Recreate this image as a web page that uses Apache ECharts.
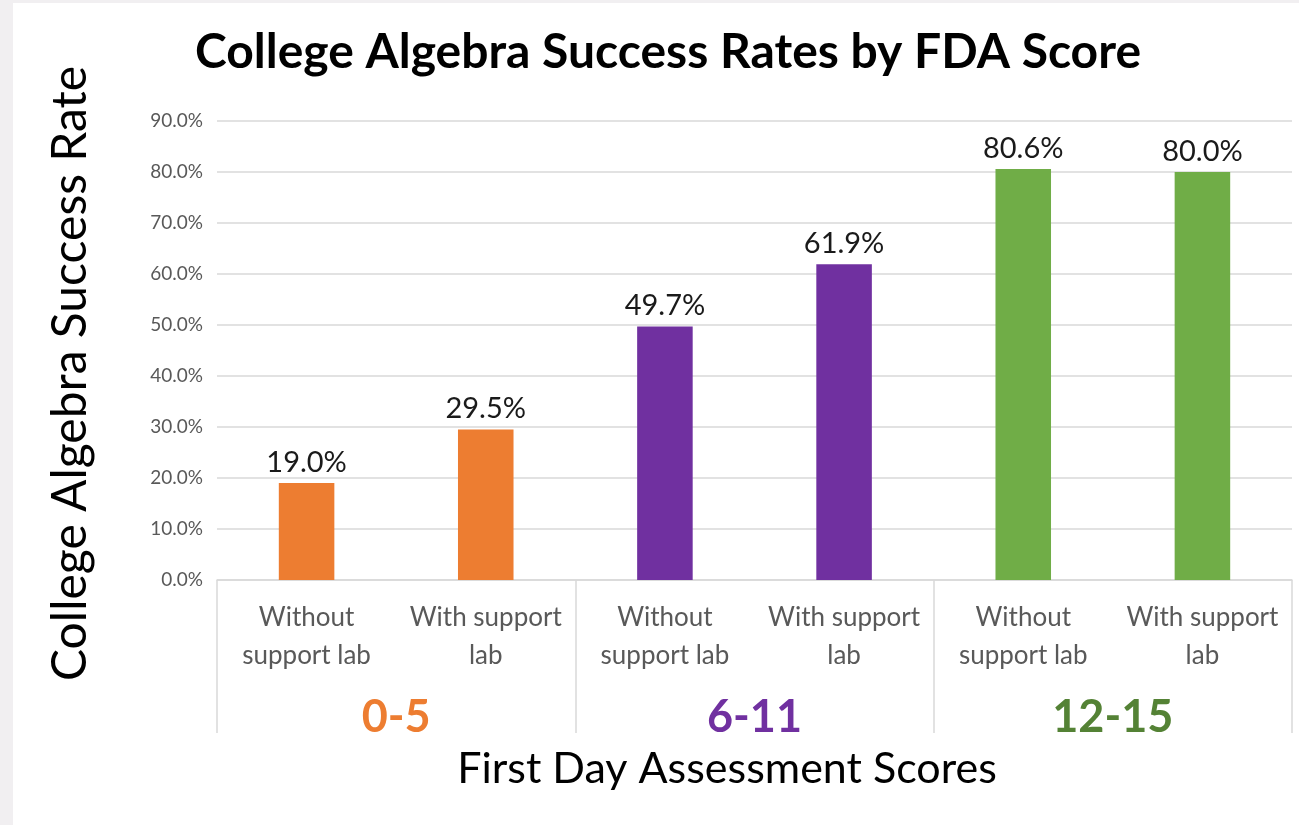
<!DOCTYPE html>
<html>
<head>
<meta charset="utf-8">
<script src="https://cdn.jsdelivr.net/npm/echarts@6/dist/echarts.min.js"></script>
<style>
  html, body { margin: 0; padding: 0; background: #f1eff1; width: 1299px; height: 825px; overflow: hidden; }
  #chart { position: absolute; left: 13px; top: 3px; width: 1286px; height: 822px; background: #ffffff; }
</style>
</head>
<body>
<div id="chart"></div>
<script>
// ---- data ----
const categories = ['Without\nsupport lab', 'With support\nlab', 'Without\nsupport lab', 'With support\nlab', 'Without\nsupport lab', 'With support\nlab'];
const values = [19.0, 29.5, 49.7, 61.9, 80.6, 80.0];
const groups = ['0-5', '6-11', '12-15'];
const barColors = ['#ED7D31', '#ED7D31', '#7030A0', '#7030A0', '#70AD47', '#70AD47'];
const groupColors = ['#ED7D31', '#7030A0', '#548235'];
const yTicks = { min: 0, max: 90, interval: 10 };

const chart = echarts.init(document.getElementById('chart'), null, { renderer: 'canvas' });
const FONT = 'Lato';
const GRID = '#d9d9d9';

chart.setOption({
  animation: false,
  backgroundColor: '#ffffff',
  title: {
    text: 'College Algebra Success Rates by FDA Score',
    left: 650,
    textAlign: 'center',
    top: 21,
    textStyle: { fontFamily: FONT, fontWeight: 'bold', fontSize: 48, color: '#000000' }
  },
  grid: { left: 204, right: 7, top: 118, bottom: 245, containLabel: false },
  xAxis: [
    {
      type: 'category',
      data: categories,
      position: 'bottom',
      axisLine: { show: true, lineStyle: { color: GRID, width: 1.5 } },
      axisTick: { show: false },
      axisLabel: {
        interval: 0,
        margin: 19,
        fontFamily: FONT,
        fontSize: 26,
        lineHeight: 38,
        color: '#595959',
        align: 'center'
      },
      name: 'First Day Assessment Scores',
      nameLocation: 'middle',
      nameGap: 168,
      nameTextStyle: { fontFamily: FONT, fontSize: 43, color: '#000000', padding: [0, 55, 0, 0] }
    },
    {
      type: 'category',
      data: groups,
      position: 'bottom',
      gridIndex: 0,
      axisLine: { show: false },
      axisTick: { show: true, length: 153, lineStyle: { color: GRID, width: 1.5 } },
      splitLine: { show: false },
      axisLabel: {
        interval: 0,
        margin: 115,
        fontFamily: FONT,
        fontWeight: 'bold',
        fontSize: 45,
        color: (v, i) => groupColors[i]
      }
    }
  ],
  yAxis: {
    type: 'value',
    min: yTicks.min,
    max: yTicks.max,
    interval: yTicks.interval,
    axisLine: { show: false },
    axisTick: { show: false },
    splitLine: { show: true, lineStyle: { color: GRID, width: 1.5 } },
    axisLabel: {
      margin: 14,
      fontFamily: FONT,
      fontSize: 19,
      color: '#595959',
      formatter: v => v.toFixed(1) + '%'
    },
    name: 'College Algebra Success Rate',
    nameLocation: 'middle',
    nameGap: 122,
    nameTextStyle: { fontFamily: FONT, fontSize: 48, color: '#000000', padding: [0, 46, 0, 0] }
  },
  series: [
    {
      type: 'bar',
      xAxisIndex: 0,
      barWidth: '31%',
      data: values.map((v, i) => ({ value: v, itemStyle: { color: barColors[i] } })),
      label: {
        show: true,
        position: 'top',
        distance: 6,
        fontFamily: FONT,
        fontSize: 29,
        color: '#1a1a1a',
        formatter: p => p.value.toFixed(1) + '%'
      }
    }
  ]
});
</script>
</body>
</html>
